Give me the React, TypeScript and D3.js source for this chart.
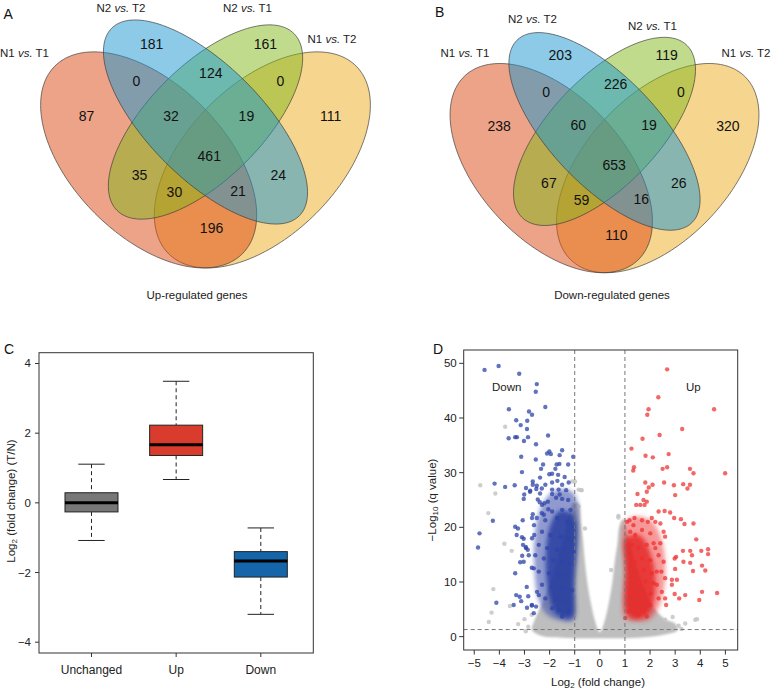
import React from "react";
import * as d3 from "d3";

// ---------------- DATA ----------------
const vennSetNames = ["N1", "N2", "N2", "N1"];
const vennSetTargets = ["T1", "T2", "T1", "T2"];
// region order: N1T1 only, N2T2 only, N2T1 only, N1T2 only, N1T1&N2T2, N2T2&N2T1, N2T1&N1T2,
// N1T1&N2T2&N2T1, N2T2&N2T1&N1T2, all four, N1T1&N2T1, N2T2&N1T2, N1T1&N2T1&N1T2, N1T1&N2T2&N1T2, N1T1&N1T2
const upCounts = [87, 181, 161, 111, 0, 124, 0, 32, 19, 461, 35, 24, 30, 21, 196];
const downCounts = [238, 203, 119, 320, 0, 226, 0, 60, 19, 653, 67, 26, 59, 16, 110];

const boxCategories = ["Unchanged", "Up", "Down"];
const boxLow = [-1.08, 0.67, -3.2];
const boxQ1 = [-0.26, 1.36, -2.13];
const boxMedian = [0.0, 1.67, -1.67];
const boxQ3 = [0.29, 2.23, -1.4];
const boxHigh = [1.11, 3.49, -0.72];
const boxTicks = [-4, -2, 0, 2, 4];

const volcanoXTicks = [-5, -4, -3, -2, -1, 0, 1, 2, 3, 4, 5];
const volcanoYTicks = [0, 10, 20, 30, 40, 50];
const foldThreshold = 1;
const qThreshold = 1.3;

const downPoints: [number, number][] = [
  [-4.59, 48.8], [-4.03, 49.5], [-3.21, 48.1], [-2.51, 46.2], [-2.55, 44.8], [-3.62, 41.6], [-2.17, 42.0],
  [-2.82, 41.2], [-2.7, 40.6], [-3.33, 39.6], [-2.89, 39.5], [-3.15, 38.7], [-2.9, 38.0], [-2.06, 36.8],
  [-3.63, 36.3], [-3.37, 36.5], [-3.3, 36.5], [-2.86, 36.5], [-3.02, 35.8], [-2.54, 35.2], [-2.01, 33.9],
  [-1.5, 34.1], [-2.1, 33.5], [-1.95, 33.4], [-1.6, 33.2], [-3.13, 32.9], [-1.06, 32.9], [-2.55, 32.4],
  [-2.26, 31.5], [-1.72, 31.5], [-1.61, 31.6], [-1.26, 31.5], [-2.34, 30.7], [-1.77, 30.7], [-1.9, 29.8],
  [-1.66, 29.6], [-3.1, 30.1], [-2.38, 29.1], [-2.01, 29.7], [-1.4, 29.2], [-4.19, 28.0], [-3.77, 27.4],
  [-3.39, 27.7], [-2.67, 28.4], [-2.67, 27.8], [-2.17, 27.8], [-1.9, 28.2], [-1.69, 28.5], [-1.5, 27.8],
  [-1.24, 28.2], [-2.94, 27.2], [-2.77, 26.7], [-2.53, 27.0], [-1.9, 26.9], [-1.64, 26.9], [-1.34, 26.8],
  [-1.9, 26.1], [-1.6, 26.0],
  [-4.79, 18.9], [-4.85, 16.3], [-4.26, 21.2], [-4.12, 6.2], [-3.37, 20.1], [-3.26, 19.8], [-3.07, 21.3],
  [-3.31, 18.6], [-3.1, 18.2], [-3.03, 17.9], [-3.37, 11.6], [-3.33, 7.6], [-3.19, 7.3], [-3.43, 5.8],
  [-3.03, 25.2], [-2.67, 22.4], [-2.7, 21.7], [-2.23, 22.3], [-2.3, 24.1], [-2.7, 18.0], [-2.94, 16.2],
  [-2.83, 14.9], [-3.03, 13.7], [-3.13, 6.5], [-2.7, 5.8], [-2.9, 5.3], [-2.63, 4.3], [-2.43, 7.6],
  [-2.63, 12.5], [-3.06, 16.8], [-2.95, 16.4], [-2.87, 15.9], [-3.09, 14.8], [-3.17, 13.6], [-2.71, 12.6],
  [-2.91, 9.1], [-2.85, 7.4], [-2.71, 5.7], [-2.54, 5.5], [-2.61, 18.6], [-2.62, 20.4], [-2.51, 21.7],
  [-2.31, 22.6], [-2.21, 24.4], [-2.05, 23.3], [-2.38, 26.2], [-2.51, 27.6], [-3.01, 26.0], [-2.78, 26.5],
  [-2.47, 25.1], [-2.31, 27.1],
  [-2.39, 24.6], [-2.07, 24.7], [-1.74, 25.4], [-1.5, 25.2], [-1.26, 25.0], [-1.17, 23.2], [-1.5, 23.2],
  [-1.9, 22.9], [-2.17, 21.3], [-1.7, 21.7], [-1.3, 21.0], [-1.04, 20.1], [-2.3, 19.2], [-1.97, 18.6],
  [-1.57, 18.3], [-1.24, 18.0], [-2.43, 16.8], [-2.1, 16.2], [-1.7, 15.9], [-1.37, 16.2], [-1.04, 15.5],
  [-2.23, 14.3], [-1.84, 14.0], [-1.5, 13.7], [-1.17, 13.4], [-2.43, 11.9], [-2.03, 11.6], [-1.64, 11.3],
  [-1.3, 11.0], [-2.3, 9.5], [-1.9, 9.1], [-1.5, 8.9], [-1.1, 8.5], [-2.17, 7.0], [-1.77, 6.7], [-1.37, 6.4],
  [-1.64, 4.9], [-1.24, 4.6], [-1.5, 3.7], [-1.9, 5.2], [-2.5, 8.2], [-2.57, 14.9],
];

const upPoints: [number, number][] = [
  [2.68, 48.9], [2.33, 43.8], [1.94, 41.6], [1.89, 40.6], [4.55, 41.6], [3.28, 38.0], [2.38, 36.9],
  [1.7, 36.2], [1.26, 34.4], [2.74, 33.4], [1.82, 33.1], [2.11, 32.8], [1.36, 31.0], [1.33, 30.4],
  [2.5, 30.7], [2.68, 31.0], [3.59, 30.7], [3.73, 29.9], [4.99, 29.9], [1.81, 28.2], [1.95, 27.3],
  [2.1, 27.8], [2.56, 28.2], [2.95, 27.7], [3.32, 27.9], [3.59, 27.8], [3.49, 27.1], [1.5, 26.1],
  [1.87, 26.5], [3.0, 25.9],
  [1.45, 24.1], [1.61, 24.1], [1.78, 24.1], [1.74, 25.0], [1.87, 24.7], [2.58, 23.0], [2.8, 22.7],
  [2.96, 21.7], [3.23, 21.5], [3.37, 20.6], [3.73, 20.7], [3.84, 17.8], [3.31, 15.7], [3.6, 15.7],
  [4.04, 15.7], [4.31, 16.0], [4.31, 15.1], [3.67, 14.9], [3.04, 14.6], [2.98, 14.3], [3.33, 13.7],
  [3.6, 13.5], [4.07, 13.0], [3.71, 12.0], [4.2, 12.1], [3.0, 12.4], [2.87, 10.4], [3.07, 10.4],
  [2.87, 9.5], [3.4, 7.6], [4.07, 8.2], [3.96, 6.7], [4.67, 8.0], [2.98, 7.8], [3.16, 7.0], [2.64, 5.8],
  [2.6, 7.0], [2.34, 22.9], [2.07, 21.7], [2.21, 21.0], [2.41, 20.7], [1.91, 21.0], [1.68, 21.3],
  [1.38, 21.7], [1.18, 21.3], [1.08, 21.0], [2.54, 19.2], [2.6, 18.3], [2.41, 17.1], [2.21, 16.2],
  [2.34, 14.9], [2.54, 13.7], [2.45, 11.9], [2.6, 10.7], [2.27, 9.5], [2.47, 8.2], [2.34, 7.0],
  [2.01, 5.8], [1.74, 4.6], [1.54, 4.0], [1.01, 3.4],
  [1.21, 19.2], [1.41, 18.6], [1.68, 19.5], [2.01, 18.9], [1.28, 16.8], [1.54, 16.2], [1.87, 16.8],
  [2.14, 17.1], [1.21, 14.6], [1.41, 13.7], [1.68, 14.3], [2.01, 14.0], [1.21, 12.5], [1.48, 11.9],
  [1.74, 12.2], [2.07, 11.6], [1.28, 10.4], [1.54, 9.8], [1.81, 10.1], [2.14, 9.8], [1.21, 8.2],
  [1.41, 7.9], [1.68, 7.6], [2.01, 7.9], [1.28, 6.4], [1.54, 5.8], [1.81, 6.4], [1.34, 4.9], [1.68, 4.9],
  [1.87, 3.7], [1.14, 4.6], [2.27, 11.9], [1.34, 20.4],
];

const grayPoints: [number, number][] = [
  [-3.77, 38.4], [-4.76, 27.7], [-4.16, 26.2], [-1.1, 28.4], [-0.84, 26.9], [-0.75, 26.8], [0.74, 21.8],
  [3.8, 3.1], [-4.44, 22.6], [-4.24, 8.7], [-3.8, 17.0], [-3.51, 15.7], [-3.58, 5.6], [-4.31, 4.4],
  [-4.42, 2.7], [-3.25, 2.3], [-2.85, 1.8], [-2.71, 4.0], [-0.72, 26.8], [-0.99, 28.4], [-0.59, 19.8],
  [-0.85, 23.8], [0.74, 22.1], [0.94, 20.4], [0.45, 12.2], [3.14, 2.0], [3.4, 2.4], [3.87, 3.2], [2.6, 3.1],
  [-3.0, 3.2], [-2.95, 1.0], [2.9, 3.6], [3.25, 1.4],
];

// outlines of the densely packed point clouds
const grayCloud: [number, number][] = [
  [0, 0.8], [-0.2, 3], [-0.35, 6], [-0.5, 10], [-0.6, 14], [-0.68, 18], [-0.75, 21], [-0.85, 24.5],
  [-1.05, 24.5], [-1.4, 19], [-1.9, 11], [-2.3, 6], [-2.6, 3], [-2.7, 1.2], [-2.3, 0.1], [-1.5, -0.2],
  [-0.5, -0.3], [0.5, -0.3], [1.5, -0.2], [2.5, 0.3], [3.1, 1.2], [3.0, 2.4], [2.6, 3.2], [2.2, 5.0],
  [1.9, 7.5], [1.5, 12], [1.15, 18], [0.95, 21.5], [0.8, 20.5], [0.7, 17], [0.6, 14], [0.5, 10],
  [0.35, 6], [0.2, 3],
];
const downCore: [number, number][] = [
  [-1.0, 26], [-1.5, 27], [-2.0, 26], [-2.4, 23], [-2.6, 18], [-2.6, 12], [-2.45, 7], [-2.1, 4],
  [-1.6, 3], [-1.05, 3], [-1.0, 8],
];
const downDense: [number, number][] = [
  [-1.03, 22], [-1.6, 23], [-2.0, 20], [-2.15, 13], [-2.0, 7], [-1.7, 4], [-1.1, 3.5], [-1.03, 10],
];
const upCore: [number, number][] = [
  [1.0, 21], [1.5, 22], [2.1, 21], [2.5, 17], [2.6, 11], [2.4, 6], [2.0, 3.2], [1.4, 2.8], [1.0, 3.5], [1.0, 12],
];
const upDense: [number, number][] = [
  [1.03, 18], [1.6, 18.5], [2.1, 14], [2.2, 8], [1.9, 4], [1.3, 3.3], [1.03, 5], [1.03, 12],
];

// ---------------- LAYOUT / STYLE ----------------
const FONT = "'Liberation Sans', Arial, Helvetica, sans-serif";
const TEXT = "#222";

const ellipses = [
  { cx: 0.35, cy: 0.47, a: 0.35, b: 0.2, rot: 135, fill: "#DB470F" },
  { cx: 0.5, cy: 0.57, a: 0.35, b: 0.15, rot: 135, fill: "#1995D1" },
  { cx: 0.5, cy: 0.57, a: 0.33, b: 0.15, rot: 45, fill: "#81B719" },
  { cx: 0.65, cy: 0.47, a: 0.35, b: 0.2, rot: 45, fill: "#EDAB1D" },
];
const drawOrder = [3, 0, 2, 1];
const regionOffsets: [number, number][] = [
  [-0.322, 0.016], [-0.15, 0.207], [0.15, 0.207], [0.322, 0.016], [-0.19, 0.108], [0.006, 0.128],
  [0.19, 0.108], [-0.099, 0.017], [0.1, 0.017], [0.002, -0.091], [-0.182, -0.141], [0.184, -0.141],
  [-0.09, -0.186], [0.078, -0.183], [0.008, -0.281],
];

const vennA = {
  ecx: 205.5, ecy: 122, sx: 379, sy: 379, lcx: 208.5,
  setLabelPos: [[24.5, 53], [121, 7.5], [247.5, 7.5], [332, 38.5]],
  title: "Up-regulated genes", titlePos: [197, 295], letter: "A", letterPos: [3.5, 18.5],
};
const vennB = {
  ecx: 604.5, ecy: 131.4, sx: 355, sy: 367, lcx: 613.5,
  setLabelPos: [[465, 53.3], [532.5, 18.5], [652.5, 26], [746, 53.3]],
  title: "Down-regulated genes", titlePos: [612, 295], letter: "B", letterPos: [435, 16.7],
};

function Venn({ counts, cfg }: { counts: number[]; cfg: any }) {
  const x = d3.scaleLinear().domain([0, 1]).range([cfg.ecx - 0.5 * cfg.sx, cfg.ecx + 0.5 * cfg.sx]);
  const y = d3.scaleLinear().domain([0.57, 1.57]).range([cfg.ecy, cfg.ecy - cfg.sy]);
  const angles = d3.range(0, 360, 2).map((d) => (d * Math.PI) / 180);
  const line = d3.line<[number, number]>().curve(d3.curveLinearClosed);
  return (
    <g>
      {drawOrder.map((i) => {
        const e = ellipses[i];
        const th = (e.rot * Math.PI) / 180;
        const pts: [number, number][] = angles.map((t) => [
          x(e.cx + e.a * Math.cos(t) * Math.cos(th) - e.b * Math.sin(t) * Math.sin(th)),
          y(e.cy + e.a * Math.cos(t) * Math.sin(th) + e.b * Math.sin(t) * Math.cos(th)),
        ]);
        return (
          <path key={i} d={line(pts) || ""} fill={e.fill} fillOpacity={0.5}
            stroke="#3a3a3a" strokeOpacity={0.75} strokeWidth={0.9} />
        );
      })}
      {counts.map((c, i) => (
        <text key={i} x={cfg.lcx + regionOffsets[i][0] * cfg.sx} y={cfg.ecy - regionOffsets[i][1] * cfg.sy}
          textAnchor="middle" dominantBaseline="central" fontSize={14} fill="#111">{c}</text>
      ))}
      {vennSetNames.map((n, i) => (
        <text key={"s" + i} x={cfg.setLabelPos[i][0]} y={cfg.setLabelPos[i][1]} textAnchor="middle"
          dominantBaseline="central" fontSize={11.5} fill={TEXT}>
          {n + " "}<tspan fontStyle="italic">vs.</tspan>{" " + vennSetTargets[i]}
        </text>
      ))}
      <text x={cfg.titlePos[0]} y={cfg.titlePos[1]} textAnchor="middle" dominantBaseline="central"
        fontSize={11.5} fill={TEXT}>{cfg.title}</text>
      <text x={cfg.letterPos[0]} y={cfg.letterPos[1]} fontSize={14} fill="#111">{cfg.letter}</text>
    </g>
  );
}

const boxFills = ["#777777", "#D93B2C", "#1565AA"];

function BoxPanel() {
  const L = 39, R = 313.3, T = 352.7, B = 653;
  const x = d3.scaleLinear().domain([0.38, 3.62]).range([L, R]);
  const y = d3.scaleLinear().domain([-4.31, 4.31]).range([B, T]);
  const hw = 0.313, cw = 0.156;
  return (
    <g>
      <text x={4} y={354} fontSize={14} fill="#111">C</text>
      {boxCategories.map((c, i) => {
        const cx = i + 1;
        return (
          <g key={c}>
            <line x1={x(cx)} x2={x(cx)} y1={y(boxHigh[i])} y2={y(boxQ3[i])} stroke="#222" strokeDasharray="4,3" />
            <line x1={x(cx)} x2={x(cx)} y1={y(boxQ1[i])} y2={y(boxLow[i])} stroke="#222" strokeDasharray="4,3" />
            <line x1={x(cx - cw)} x2={x(cx + cw)} y1={y(boxHigh[i])} y2={y(boxHigh[i])} stroke="#222" />
            <line x1={x(cx - cw)} x2={x(cx + cw)} y1={y(boxLow[i])} y2={y(boxLow[i])} stroke="#222" />
            <rect x={x(cx - hw)} y={y(boxQ3[i])} width={x(cx + hw) - x(cx - hw)} height={y(boxQ1[i]) - y(boxQ3[i])}
              fill={boxFills[i]} stroke="#222" strokeWidth={1} />
            <line x1={x(cx - hw)} x2={x(cx + hw)} y1={y(boxMedian[i])} y2={y(boxMedian[i])} stroke="#000" strokeWidth={3} />
            <line x1={x(cx)} x2={x(cx)} y1={B} y2={B + 4} stroke="#333" />
            <text x={x(cx)} y={669.5} textAnchor="middle" dominantBaseline="central" fontSize={12} fill={TEXT}>{c}</text>
          </g>
        );
      })}
      {boxTicks.map((t) => (
        <g key={t}>
          <line x1={L - 4} x2={L} y1={y(t)} y2={y(t)} stroke="#333" />
          <text x={31} y={y(t)} textAnchor="end" dominantBaseline="central" fontSize={11.5} fill={TEXT}>
            {t < 0 ? "\u2212" + Math.abs(t) : String(t)}
          </text>
        </g>
      ))}
      <rect x={L} y={T} width={R - L} height={B - T} fill="none" stroke="#333" strokeWidth={1} />
      <text transform={`translate(11,501) rotate(-90)`} textAnchor="middle" dominantBaseline="central" fontSize={11.5} fill={TEXT}>
        Log<tspan fontSize={8} dy={3}>2</tspan><tspan dy={-3}> (fold change) (T/N)</tspan>
      </text>
    </g>
  );
}

function VolcanoPanel() {
  const L = 463.7, R = 737.7, T = 350, B = 650;
  const x = d3.scaleLinear().domain([-5.42, 5.49]).range([L, R]);
  const y = d3.scaleLinear().domain([-2.44, 52.44]).range([B, T]);
  const area = d3.line<[number, number]>().x((d) => x(d[0])).y((d) => y(d[1])).curve(d3.curveCatmullRomClosed.alpha(0.5));
  return (
    <g>
      <defs>
        <filter id="soft" x="-20%" y="-20%" width="140%" height="140%">
          <feGaussianBlur stdDeviation={2.2} />
        </filter>
        <filter id="soft2" x="-20%" y="-20%" width="140%" height="140%">
          <feGaussianBlur stdDeviation={1.2} />
        </filter>
        <clipPath id="volcClip"><rect x={L} y={T} width={R - L} height={B - T} /></clipPath>
      </defs>
      <text x={433} y={354} fontSize={14} fill="#111">D</text>
      <g clipPath="url(#volcClip)">
        <path d={area(grayCloud) || ""} fill="#BEBEBE" filter="url(#soft2)" />
        {grayPoints.map((p, i) => (
          <circle key={"g" + i} cx={x(p[0])} cy={y(p[1])} r={2.2} fill="#C6C6C6" fillOpacity={0.85} />
        ))}
        <path d={area(downCore) || ""} fill="#3347A8" fillOpacity={0.55} filter="url(#soft)" />
        <path d={area(downDense) || ""} fill="#1F3A9E" fillOpacity={0.8} filter="url(#soft)" />
        <path d={area(upCore) || ""} fill="#EE3030" fillOpacity={0.5} filter="url(#soft)" />
        <path d={area(upDense) || ""} fill="#E41E1E" fillOpacity={0.75} filter="url(#soft)" />
        {downPoints.map((p, i) => (
          <circle key={"d" + i} cx={x(p[0])} cy={y(p[1])} r={2.2} fill="#2E44A8" fillOpacity={0.75} />
        ))}
        {upPoints.map((p, i) => (
          <circle key={"u" + i} cx={x(p[0])} cy={y(p[1])} r={2.2} fill="#EE2C2C" fillOpacity={0.72} />
        ))}
      </g>
      <line x1={x(-foldThreshold)} x2={x(-foldThreshold)} y1={T} y2={B} stroke="#777" strokeDasharray="4,3" />
      <line x1={x(foldThreshold)} x2={x(foldThreshold)} y1={T} y2={B} stroke="#777" strokeDasharray="4,3" />
      <line x1={L} x2={R} y1={y(qThreshold)} y2={y(qThreshold)} stroke="#777" strokeDasharray="4,3" />
      <rect x={L} y={T} width={R - L} height={B - T} fill="none" stroke="#333" strokeWidth={1} />
      {volcanoXTicks.map((t) => (
        <g key={"x" + t}>
          <line x1={x(t)} x2={x(t)} y1={B} y2={B + 4.5} stroke="#333" />
          <text x={x(t)} y={662.7} textAnchor="middle" dominantBaseline="central" fontSize={11.5} fill={TEXT}>
            {t < 0 ? "\u2212" + Math.abs(t) : String(t)}
          </text>
        </g>
      ))}
      {volcanoYTicks.map((t) => (
        <g key={"y" + t}>
          <line x1={L - 4.5} x2={L} y1={y(t)} y2={y(t)} stroke="#333" />
          <text x={456.7} y={y(t)} textAnchor="end" dominantBaseline="central" fontSize={11.5} fill={TEXT}>{t}</text>
        </g>
      ))}
      <text x={506.7} y={386.7} textAnchor="middle" dominantBaseline="central" fontSize={11.5} fill={TEXT}>Down</text>
      <text x={693.3} y={386.7} textAnchor="middle" dominantBaseline="central" fontSize={11.5} fill={TEXT}>Up</text>
      <text x={598} y={681.5} textAnchor="middle" dominantBaseline="central" fontSize={11.5} fill={TEXT}>
        Log<tspan fontSize={8} dy={3}>2</tspan><tspan dy={-3}> (fold change)</tspan>
      </text>
      <text transform={`translate(432,500) rotate(-90)`} textAnchor="middle" dominantBaseline="central" fontSize={11.5} fill={TEXT}>
        {"\u2212Log"}<tspan fontSize={8} dy={3}>10</tspan><tspan dy={-3}> (q value)</tspan>
      </text>
    </g>
  );
}

export default function App() {
  return (
    <svg width={771} height={691} style={{ position: "absolute", left: 0, top: 0, background: "#fff" }}
      fontFamily={FONT}>
      <rect width={771} height={691} fill="#fff" />
      <Venn counts={upCounts} cfg={vennA} />
      <Venn counts={downCounts} cfg={vennB} />
      <BoxPanel />
      <VolcanoPanel />
    </svg>
  );
}
